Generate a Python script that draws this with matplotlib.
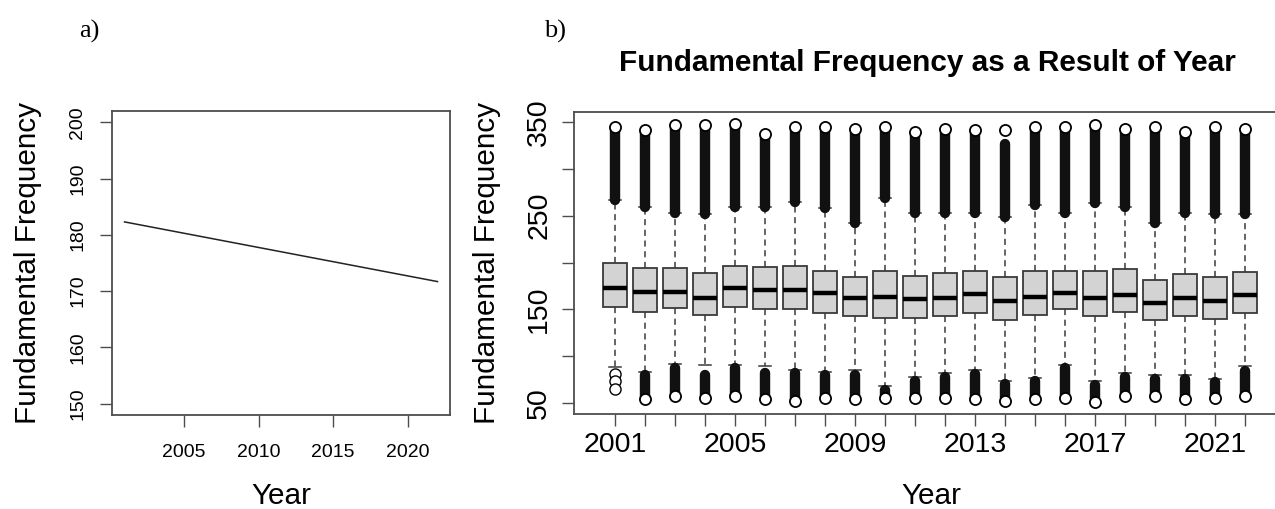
import matplotlib
matplotlib.use("Agg")
import matplotlib.pyplot as plt

plt.rcParams["font.family"] = ["Liberation Sans", "DejaVu Sans"]

W, H = 1275, 509

# ---- panel a: fitted line -------------------------------------------------- #
fit_years = [2001, 2022]
fit_f0 = [182.3, 171.7]

# ---- panel b: box statistics per year ------------------------------------- #
years = list(range(2001, 2023))
q1 = [152.9, 147.6, 151.2, 144.0, 152.2, 150.0, 150.0, 146.6, 143.0, 140.5, 140.5,
      143.0, 145.8, 138.7, 143.7, 150.4, 143.0, 146.9, 138.7, 143.0, 139.4, 146.6]
med = [172.5, 168.2, 168.2, 162.5, 172.5, 170.7, 170.7, 167.1, 162.5, 163.6, 160.8,
       161.8, 166.1, 159.3, 163.6, 167.8, 162.5, 165.4, 156.5, 162.5, 159.3, 165.4]
q3 = [199.2, 193.8, 193.8, 188.5, 196.6, 194.9, 196.6, 191.3, 184.3, 191.3, 185.6,
      188.5, 191.0, 184.3, 191.3, 191.3, 191.3, 192.8, 181.4, 187.8, 185.0, 189.6]
whis_lo = [88.2, 83.5, 91.7, 90.7, 90.7, 90.0, 85.3, 83.5, 85.3, 68.0, 78.0,
           82.0, 85.0, 74.0, 77.0, 91.0, 73.0, 82.0, 80.0, 80.0, 76.0, 89.6]
whis_hi = [266.8, 259.6, 252.4, 251.8, 259.6, 259.6, 265.0, 257.9, 241.9, 268.6, 252.4,
           252.4, 252.4, 249.0, 261.4, 252.4, 263.2, 259.6, 242.5, 252.4, 251.8, 251.8]
# upper outliers: dense column from whisker end up to out_hi_dense, last point out_hi
out_hi = [345, 341, 347, 347, 348, 337, 345, 345, 343, 345, 339,
          343, 341, 341, 345, 345, 347, 343, 345, 339, 345, 343]
out_hi_dense = [345, 341, 347, 347, 348, 337, 345, 345, 343, 345, 339,
                343, 341, 327, 345, 345, 347, 343, 345, 339, 345, 343]
# lower outliers: column from out_lo_top down to out_lo_bot
out_lo_top = [None, 80, 87, 80, 87, 82, 82, 80, 80, 64, 73,
              78, 81, 70, 73, 87, 69, 78, 76, 76, 72, 84]
out_lo_bot = [None, 54, 57, 55, 57, 54, 52, 55, 54, 55, 55,
              55, 54, 52, 54, 55, 51, 57, 57, 54, 55, 57]
sparse_lo_2001 = [81, 73, 65]

xtick_labels = ["2001", "", "", "", "2005", "", "", "", "2009", "", "", "",
                "2013", "", "", "", "2017", "", "", "", "2021", ""]

spine_c = "#4d4d4d"
tick_kw = dict(direction="out", length=8.6, width=1.0, color=spine_c)

fig = plt.figure(figsize=(W / 100, H / 100), dpi=100)


def px_axes(x0, y0, x1, y1):
    return fig.add_axes([x0 / W, 1 - y1 / H, (x1 - x0) / W, (y1 - y0) / H])


# ---------------------------------------------------------------- panel a
ax1 = px_axes(112, 111, 450, 415)
ax1.plot(fit_years, fit_f0, color="#222222", lw=1.1)
ax1.set_xlim(2000.16, 2022.84)
ax1.set_ylim(148, 202)
ax1.set_xticks([2005, 2010, 2015, 2020])
ax1.set_yticks([150, 160, 170, 180, 190, 200])
ax1.set_yticklabels(["150", "160", "170", "180", "190", "200"], rotation=90, va="center")
ax1.tick_params(axis="both", labelsize=14, **tick_kw)
ax1.tick_params(axis="y", pad=10)
ax1.tick_params(axis="x", pad=12)
for s in ax1.spines.values():
    s.set_color(spine_c)
    s.set_linewidth(1.3)
ax1.set_ylabel("Fundamental Frequency", fontsize=21.4, va="center")
ax1.yaxis.set_label_coords(28 / W, 1 - 263 / H, transform=fig.transFigure)
ax1.set_xlabel("Year", fontsize=21.4, va="center")
ax1.xaxis.set_label_coords(281 / W, 1 - 496 / H, transform=fig.transFigure)

# ---------------------------------------------------------------- panel b
ax2 = px_axes(574, 112, 1290, 414)
stats = []
for i, y in enumerate(years):
    stats.append(dict(med=med[i], q1=q1[i], q3=q3[i],
                      whislo=whis_lo[i], whishi=whis_hi[i], fliers=[]))
ax2.bxp(stats, positions=years, widths=0.8, patch_artist=True,
        boxprops=dict(facecolor="#d3d3d3", edgecolor="#3a3a3a", linewidth=1.3),
        medianprops=dict(color="black", linewidth=3.2),
        whiskerprops=dict(color="#3a3a3a", linewidth=1.1, linestyle=(0, (4, 3))),
        capprops=dict(color="#3a3a3a", linewidth=1.1),
        capwidths=0.4)

# outlier columns
ax2.vlines(years, whis_hi, out_hi_dense, color="#111111", lw=7.5, zorder=3,
           capstyle="round")
ax2.plot(years, out_hi, "o", ms=8, mfc="white", mec="black", mew=1.3, zorder=4)
lo_years = [y for y, t in zip(years, out_lo_top) if t is not None]
lo_top = [t for t in out_lo_top if t is not None]
lo_bot = [b for b in out_lo_bot if b is not None]
ax2.vlines(lo_years, lo_bot, lo_top, color="#111111", lw=7.5, zorder=3,
           capstyle="round")
ax2.plot(lo_years, lo_bot, "o", ms=8, mfc="white", mec="black", mew=1.3, zorder=4)
ax2.plot([2001] * len(sparse_lo_2001), sparse_lo_2001, "o", ms=8,
         mfc="white", mec="black", mew=1.0, zorder=4)

ax2.set_xlim(1999.633, 2023.5)
ax2.set_ylim(38.3, 360.7)
ax2.set_xticks(years)
ax2.set_xticklabels(xtick_labels)
ax2.set_yticks([50, 100, 150, 200, 250, 300, 350])
ax2.set_yticklabels(["50", "", "150", "", "250", "", "350"], rotation=90, va="center")
ax2.tick_params(axis="both", labelsize=20.5, **tick_kw)
ax2.tick_params(axis="y", pad=7)
ax2.tick_params(axis="x", pad=4)
for s in ax2.spines.values():
    s.set_color(spine_c)
    s.set_linewidth(1.3)
ax2.set_ylabel("Fundamental Frequency", fontsize=21.4, va="center")
ax2.yaxis.set_label_coords(487 / W, 1 - 263 / H, transform=fig.transFigure)
ax2.set_xlabel("Year", fontsize=21.4, va="center")
ax2.xaxis.set_label_coords(931 / W, 1 - 496 / H, transform=fig.transFigure)

fig.text(927 / W, 1 - 63 / H, "Fundamental Frequency as a Result of Year",
         fontsize=21.4, fontweight="bold", ha="center", va="center")
fig.text(89 / W, 1 - 31 / H, "a)", family=["Liberation Serif", "DejaVu Serif"],
         fontsize=19, ha="center", va="center")
fig.text(555 / W, 1 - 31 / H, "b)", family=["Liberation Serif", "DejaVu Serif"],
         fontsize=19, ha="center", va="center")

fig.savefig("out.png", dpi=100)
